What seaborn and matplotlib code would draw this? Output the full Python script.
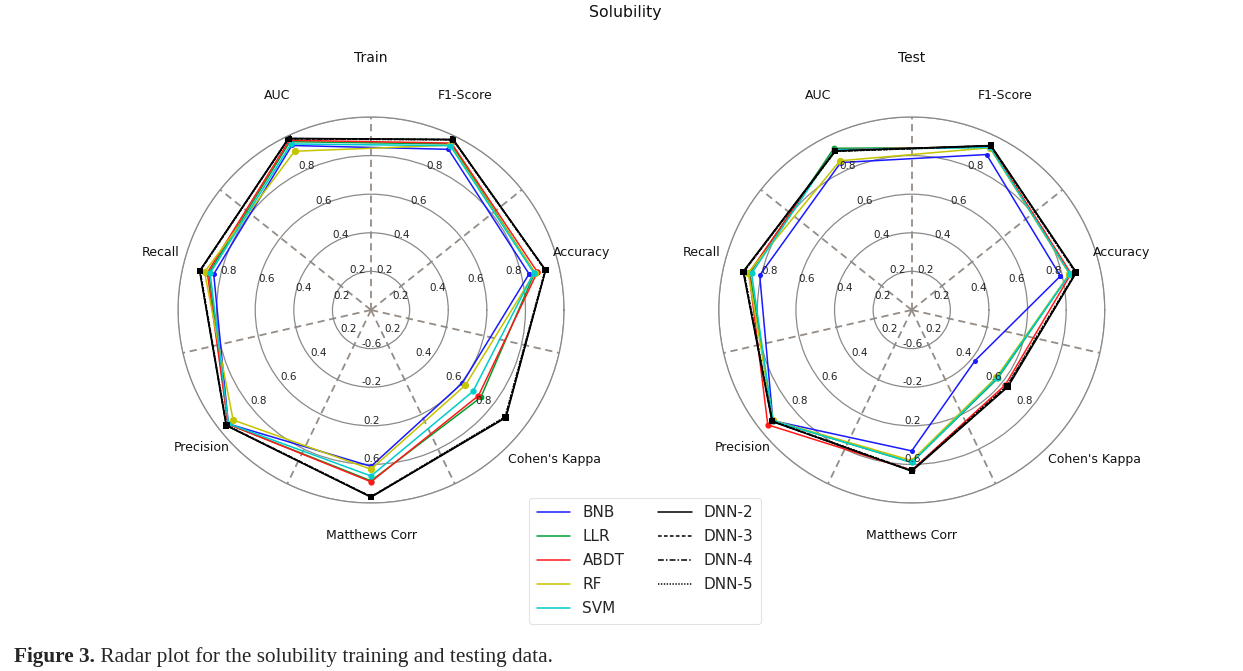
import numpy as np
import pandas as pd
import matplotlib
matplotlib.use("Agg")
import matplotlib.pyplot as plt
import seaborn as sns
from matplotlib.lines import Line2D

# ---------------- data ----------------
metrics = ["Accuracy", "F1-Score", "AUC", "Recall", "Precision", "Matthews Corr", "Cohen's Kappa"]
metric_lo = [0, 0, 0, 0, 0, -1, 0]
metric_hi = [1, 1, 1, 1, 1, 1, 1]
tick_fracs = [0.2, 0.4, 0.6, 0.8]
models = ["BNB", "LLR", "ABDT", "RF", "SVM", "DNN-2", "DNN-3", "DNN-4", "DNN-5"]

# order: Accuracy, F1-Score, AUC, Recall, Precision, Matthews Corr, Cohen's Kappa
train_bnb = [0.840, 0.924, 0.946, 0.836, 0.946, 0.62, 0.606]
train_llr = [0.870, 0.955, 0.968, 0.862, 0.948, 0.77, 0.727]
train_abdt = [0.884, 0.960, 0.976, 0.870, 0.948, 0.78, 0.712]
train_rf = [0.870, 0.948, 0.913, 0.885, 0.914, 0.65, 0.625]
train_svm = [0.865, 0.945, 0.955, 0.855, 0.945, 0.72, 0.676]
train_dnn2 = [0.928, 0.981, 0.987, 0.911, 0.960, 0.94, 0.894]
train_dnn3 = [0.926, 0.980, 0.986, 0.909, 0.958, 0.935, 0.890]
train_dnn4 = [0.927, 0.979, 0.985, 0.910, 0.959, 0.937, 0.892]
train_dnn5 = [0.925, 0.978, 0.984, 0.908, 0.957, 0.933, 0.888]

test_bnb = [0.790, 0.894, 0.848, 0.808, 0.920, 0.46, 0.420]
test_llr = [0.840, 0.935, 0.930, 0.860, 0.920, 0.58, 0.569]
test_abdt = [0.847, 0.940, 0.922, 0.865, 0.954, 0.66, 0.621]
test_rf = [0.838, 0.933, 0.858, 0.869, 0.918, 0.56, 0.560]
test_svm = [0.840, 0.935, 0.922, 0.851, 0.920, 0.58, 0.565]
test_dnn2 = [0.875, 0.946, 0.915, 0.896, 0.926, 0.67, 0.638]
test_dnn3 = [0.872, 0.944, 0.913, 0.893, 0.924, 0.665, 0.632]
test_dnn4 = [0.873, 0.945, 0.914, 0.894, 0.925, 0.668, 0.635]
test_dnn5 = [0.870, 0.943, 0.912, 0.892, 0.923, 0.662, 0.630]

train_values = [train_bnb, train_llr, train_abdt, train_rf, train_svm,
                train_dnn2, train_dnn3, train_dnn4, train_dnn5]
test_values = [test_bnb, test_llr, test_abdt, test_rf, test_svm,
               test_dnn2, test_dnn3, test_dnn4, test_dnn5]

# ---------------- styles ----------------
colors = ["#1a1aff", "#00a030", "#ff1a1a", "#c4c400", "#00cccc",
          "black", "black", "black", "black"]
styles = ["-", "-", "-", "-", "-", "-", (0, (2.4, 1.5)), (0, (3.8, 1.4, 1, 1.4)), (0, (0.9, 1.0))]
markers = ["o", "o", "o", "o", "o", "s", "s", "s", "s"]
msizes = [3.6, 4.2, 4.5, 5.2, 4.5, 3.8, 3.8, 3.8, 3.8]
LW = 1.1

sns.set_theme(style="white")
plt.rcParams["font.family"] = ["DejaVu Sans"]

fig = plt.figure(figsize=(12.43, 6.71), dpi=100)
fig.patch.set_facecolor("white")

n = len(metrics)
step = 2 * np.pi / n
theta = np.array([np.pi / (2 * n) + i * step for i in range(n)])
spokes = np.mod(np.array([np.pi / 2 + i * step for i in range(n)]), 2 * np.pi)

# label placement (angle deg, radius in axis units)
label_pos = [(15.4, 1.129), (66.4, 1.212), (113.6, 1.212), (164.6, 1.129),
             (219.2, 1.129), (270.0, 1.166), (320.7, 1.226)]

ax_w = 0.3106
ax_h = 0.5753
centers = [(0.2985, 0.538), (0.7335, 0.538)]
titles = ["Train", "Test"]
datasets = [train_values, test_values]


def setup_axis(ax):
    ax.set_yticks([0.2, 0.4, 0.6, 0.8, 1.0])
    ax.set_yticklabels([])
    ax.yaxis.grid(True, color="#8a8a8a", lw=0.9, ls="-")
    ax.set_xticks(spokes)
    ax.set_xticklabels([])
    ax.xaxis.grid(True, color="#958c85", lw=1.3, ls=(0, (4, 2.6)))
    ax.tick_params(length=0)
    ax.set_xlabel("")
    ax.set_ylabel("")
    ax.set_xlim(0, 2 * np.pi)
    ax.set_ylim(0, 1)
    ax.spines["polar"].set_color("#8a8a8a")
    ax.spines["polar"].set_linewidth(0.9)


for (cx, cy), title, values in zip(centers, titles, datasets):
    ax = fig.add_axes([cx - ax_w / 2, cy - ax_h / 2, ax_w, ax_h], polar=True)
    ax.set_facecolor("white")

    # series
    for k, vals in enumerate(values):
        r = [(v - lo) / (hi - lo) for v, lo, hi in zip(vals, metric_lo, metric_hi)]
        df = pd.DataFrame({"theta": list(theta) + [theta[0]],
                           "r": r + [r[0]]})
        sns.lineplot(data=df, x="theta", y="r", ax=ax, sort=False, estimator=None,
                     color=colors[k], linestyle=styles[k], lw=LW,
                     marker=markers[k], markersize=msizes[k],
                     markeredgewidth=0, legend=False)
    setup_axis(ax)

    # per-axis tick labels
    for i, th in enumerate(theta):
        c = np.cos(th)
        if abs(c) < 0.05:
            ha, dx = "center", 0.5
        elif abs(c) < 0.6:
            ha, dx = "center", -2.2 * np.sign(c)
        else:
            ha, dx = ("left" if c < 0 else "right"), 0.0
        for f in tick_fracs:
            v = metric_lo[i] + f * (metric_hi[i] - metric_lo[i])
            ax.annotate(f"{v:.1f}", xy=(th, f), xytext=(dx, 0),
                        textcoords="offset points", ha=ha, va="bottom",
                        fontsize=7.5, color="#222222")

    # category labels
    for name, (adeg, rr) in zip(metrics, label_pos):
        ax.text(np.deg2rad(adeg), rr, name, ha="center", va="center",
                fontsize=9, color="#111111", clip_on=False)

    fig.text(cx, 0.9136, title, ha="center", va="center", fontsize=10,
             color="#111111")

fig.text(0.503, 0.981, "Solubility", ha="center", va="center", fontsize=11.3,
         color="#111111")

handles = [Line2D([0], [0], color=colors[k], ls=styles[k], lw=LW)
           for k in range(len(models))]
leg = fig.legend(handles, models, ncol=2, loc="upper center",
                 bbox_to_anchor=(0.519, 0.2695), fontsize=11, frameon=True,
                 handlelength=2.2, columnspacing=2.2, labelspacing=0.58,
                 borderpad=0.5, fancybox=True)
leg.get_frame().set_edgecolor("#dddddd")
leg.get_frame().set_linewidth(0.8)

# caption
t1 = fig.text(0.0113, 0.021, "Figure 3.", ha="left", va="center",
              fontsize=13, fontweight="bold", family="Liberation Serif")
t2 = fig.text(0.0, 0.021, " Radar plot for the solubility training and testing data.",
              ha="left", va="center", fontsize=13, family="Liberation Serif")
fig.canvas.draw()
r = fig.canvas.get_renderer()
b1 = t1.get_window_extent(r)
b2 = t2.get_window_extent(r)
scale = 537.0 / (b1.width + b2.width)
t1.set_fontsize(13 * scale)
t2.set_fontsize(13 * scale)
fig.canvas.draw()
b1 = t1.get_window_extent(r)
t2.set_x(b1.x1 / fig.bbox.width)

fig.savefig("out.png", dpi=100, facecolor="white")
